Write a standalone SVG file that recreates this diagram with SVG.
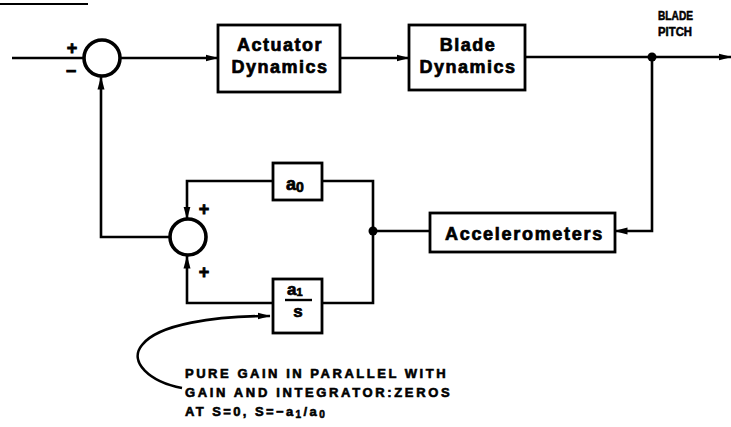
<svg xmlns="http://www.w3.org/2000/svg" width="731" height="427" viewBox="0 0 731 427">
<defs>
<marker id="ah" viewBox="0 0 13 9" refX="12.5" refY="4.5" markerWidth="13" markerHeight="9" markerUnits="userSpaceOnUse" orient="auto">
<path d="M0,1 L13,4.5 L0,8 Z" fill="#000"/>
</marker>
<style>
.ln{fill:none;stroke:#000;stroke-width:2.6;stroke-linejoin:miter}
.bx{fill:#fff;stroke:#000;stroke-width:2.8}
.cr{fill:#fff;stroke:#000;stroke-width:3.6}
.t{font-family:"Liberation Sans",Arial,sans-serif;font-weight:bold;fill:#000;stroke:#000;stroke-width:0.7px}
.lb{font-size:18px;letter-spacing:1.5px;text-anchor:middle}
.sm{font-size:13px;letter-spacing:2.4px;stroke-width:0.6px}
.sg{font-family:"Liberation Sans",Arial,sans-serif;font-weight:bold;font-size:18px;fill:#000;stroke:#000;stroke-width:0.8px;text-anchor:middle}
</style>
</defs>
<rect width="731" height="427" fill="#fff"/>
<line x1="0" y1="4" x2="88" y2="4" stroke="#000" stroke-width="2"/>

<g id="connectors">
<path class="ln" d="M12,58 L84,58"/>
<path class="ln" d="M120,58 L218,58" marker-end="url(#ah)"/>
<path class="ln" d="M340,58 L409,58" marker-end="url(#ah)"/>
<path class="ln" d="M525,57 L731,57" marker-end="url(#ah)"/>
<path class="ln" d="M652,57 L652,231 L615,231" marker-end="url(#ah)"/>
<path class="ln" d="M430,231 L373,231"/>
<path class="ln" d="M322,181 L373,181 L373,303 L322,303"/>
<path class="ln" d="M273,181 L187,181 L187,219" marker-end="url(#ah)"/>
<path class="ln" d="M273,303 L187,303 L187,256" marker-end="url(#ah)"/>
<path class="ln" d="M170,237 L101,237 L101,77" marker-end="url(#ah)"/>
<path class="ln" d="M182,388 C150,382 128,362 142,345 C158,324 215,316 270,316" marker-end="url(#ah)"/>
<circle cx="652" cy="57" r="4.5" fill="#000"/>
<circle cx="373" cy="231" r="4.5" fill="#000"/>
</g>

<g id="sum1">
<circle class="cr" cx="102" cy="58" r="18"/>
<text class="sg" x="72" y="54">+</text>
<text class="sg" x="71" y="77">−</text>
</g>

<g id="actuator">
<rect class="bx" x="218" y="25" width="122" height="67"/>
<text class="t lb" x="280" y="51">Actuator</text>
<text class="t lb" x="280" y="73">Dynamics</text>
</g>

<g id="blade">
<rect class="bx" x="409" y="25" width="116" height="65"/>
<text class="t lb" x="468" y="51">Blade</text>
<text class="t lb" x="468" y="73">Dynamics</text>
</g>

<g id="blade-pitch">
<text class="t" x="658" y="20" font-size="12" textLength="35" lengthAdjust="spacingAndGlyphs" style="stroke-width:0.5px">BLADE</text>
<text class="t" x="658" y="36" font-size="12" textLength="34" lengthAdjust="spacingAndGlyphs" style="stroke-width:0.5px">PITCH</text>
</g>

<g id="accelerometers">
<rect class="bx" x="430" y="213" width="185" height="39"/>
<text class="t" x="445" y="240" font-size="18" letter-spacing="1.7">Accelerometers</text>
</g>

<g id="a0">
<rect class="bx" x="273" y="163" width="49" height="37"/>
<text class="t" x="286" y="190" font-size="18">a<tspan font-size="14" dy="2">0</tspan></text>
</g>

<g id="a1s">
<rect class="bx" x="273" y="279" width="49" height="54"/>
<text class="t" x="287" y="295" font-size="17">a<tspan font-size="11" dy="1">1</tspan></text>
<line x1="285" y1="300" x2="312" y2="300" stroke="#000" stroke-width="2.4"/>
<text class="t" x="298" y="317" font-size="17" text-anchor="middle">s</text>
</g>

<g id="sum2">
<circle class="cr" cx="188" cy="237" r="18"/>
<text class="sg" x="204" y="215">+</text>
<text class="sg" x="204" y="278">+</text>
</g>

<g id="note">
<text class="t sm" x="185" y="378" textLength="263" lengthAdjust="spacing">PURE GAIN IN PARALLEL WITH</text>
<text class="t sm" x="185" y="397" textLength="267" lengthAdjust="spacing">GAIN AND INTEGRATOR:ZEROS</text>
<text class="t sm" x="185" y="416">AT S=0, S=−a<tspan font-size="10" dy="2">1</tspan><tspan dy="-2">/a</tspan><tspan font-size="10" dy="2">0</tspan></text>
</g>
</svg>
